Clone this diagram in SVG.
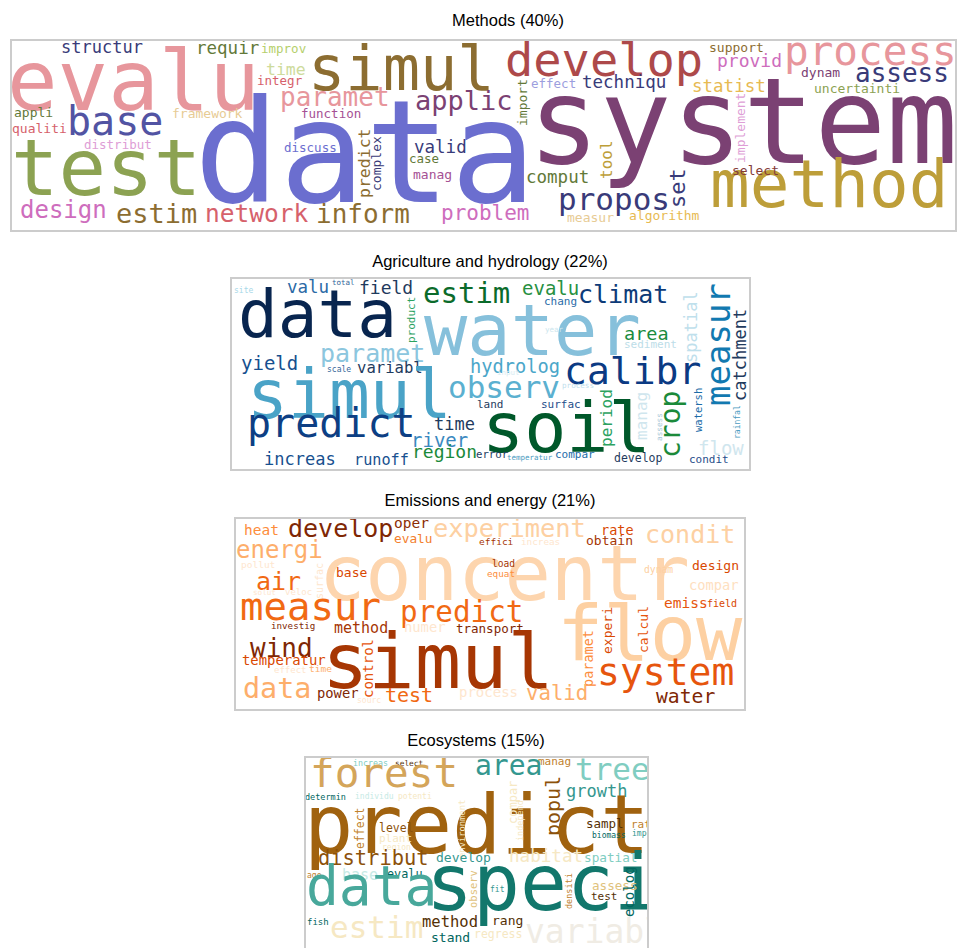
<svg xmlns="http://www.w3.org/2000/svg" width="957" height="948" viewBox="0 0 957 948">
<style>
text{font-family:"DejaVu Sans Mono",monospace}
.t{font-family:"Liberation Sans",Arial,sans-serif;font-size:16.5px;text-anchor:middle;fill:#000}
.box{fill:none;stroke:#cccccc;stroke-width:2}
</style>
<defs>
<clipPath id="c1"><rect x="12" y="41" width="944" height="189"/></clipPath>
<clipPath id="c2"><rect x="232" y="279" width="517" height="190"/></clipPath>
<clipPath id="c3"><rect x="236" y="519" width="508" height="190"/></clipPath>
<clipPath id="c4"><rect x="306" y="758" width="341" height="190"/></clipPath>
</defs>
<rect width="957" height="948" fill="#fff"/>

<g id="methods">
<text class="t" x="508" y="26">Methods (40%)</text>
<rect class="box" x="11" y="40" width="945" height="191" fill="#fff"/>
<g clip-path="url(#c1)">
<text x="7" y="110" font-size="84" fill="#e7969c">evalu</text>
<text x="194" y="202" font-size="142" fill="#6b6ecf">data</text>
<text x="11" y="195" font-size="79" fill="#8ca252">test</text>
<text x="67" y="135" font-size="40" fill="#5254a3">base</text>
<text x="308" y="90" font-size="62" fill="#8c6d31">simul</text>
<text x="505" y="76" font-size="47" fill="#ad494a">develop</text>
<text x="528" y="163" font-size="119" fill="#7b4173">system</text>
<text x="710" y="207" font-size="66" fill="#bd9e39">method</text>
<text x="784" y="65" font-size="41" fill="#e7969c">process</text>
<text x="855" y="82" font-size="26" fill="#393b79">assess</text>
<text x="61" y="53" font-size="17" fill="#393b79">structur</text>
<text x="196" y="54" font-size="17.5" fill="#637939">requir</text>
<text x="261" y="53" font-size="12.5" fill="#b5cf6b">improv</text>
<text x="266" y="75" font-size="16.5" fill="#cedb9c">time</text>
<text x="257" y="85" font-size="12.5" fill="#d6616b">integr</text>
<text x="280" y="106" font-size="26" fill="#e7969c">paramet</text>
<text x="301" y="118" font-size="12.5" fill="#a55194">function</text>
<text x="284" y="152" font-size="12.5" fill="#6b6ecf">discuss</text>
<text x="14" y="117" font-size="13" fill="#637939">appli</text>
<text x="172" y="118" font-size="13" fill="#e7cb94">framework</text>
<text x="12" y="133" font-size="13" fill="#d6616b">qualiti</text>
<text x="84" y="149" font-size="12.5" fill="#de9ed6">distribut</text>
<text x="20" y="218" font-size="24" fill="#ce6dbd">design</text>
<text x="116" y="223" font-size="27" fill="#8c6d31">estim</text>
<text x="205" y="222" font-size="24.5" fill="#d6616b">network</text>
<text x="316" y="223" font-size="26" fill="#8c6d31">inform</text>
<text x="415" y="110" font-size="27" fill="#7b4173">applic</text>
<text transform="translate(527,126) rotate(-90)" font-size="13" fill="#637939">import</text>
<text x="531" y="88" font-size="12.5" fill="#9c9ede">effect</text>
<text x="582" y="88" font-size="17.5" fill="#393b79">techniqu</text>
<text x="414" y="153" font-size="17.5" fill="#393b79">valid</text>
<text x="409" y="163" font-size="12.5" fill="#637939">case</text>
<text x="413" y="179" font-size="13" fill="#a55194">manag</text>
<text transform="translate(370,198) rotate(-90)" font-size="16.5" fill="#8c6d31">predict</text>
<text transform="translate(381,191) rotate(-90)" font-size="13" fill="#393b79">complex</text>
<text x="441" y="220" font-size="21" fill="#ce6dbd">problem</text>
<text x="526" y="183" font-size="17.5" fill="#637939">comput</text>
<text transform="translate(612,179) rotate(-90)" font-size="16" fill="#bd9e39">tool</text>
<text x="558" y="210" font-size="31" fill="#393b79">propos</text>
<text x="567" y="222" font-size="13" fill="#e7cb94">measur</text>
<text x="629" y="220" font-size="13" fill="#e7ba52">algorithm</text>
<text transform="translate(685,208) rotate(-90)" font-size="22" fill="#393b79">set</text>
<text x="709" y="52" font-size="13" fill="#8c6d31">support</text>
<text x="717" y="67" font-size="18" fill="#ce6dbd">provid</text>
<text x="801" y="77" font-size="13" fill="#7b4173">dynam</text>
<text x="692" y="92" font-size="17.5" fill="#e7ba52">statist</text>
<text x="814" y="93" font-size="13" fill="#8ca252">uncertainti</text>
<text transform="translate(745,163) rotate(-90)" font-size="13" fill="#de9ed6">implement</text>
<text x="732" y="175" font-size="13" fill="#843c39">select</text>
</g>
</g>

<g id="agriculture">
<text class="t" x="490" y="267">Agriculture and hydrology (22%)</text>
<rect class="box" x="231" y="278" width="519" height="192" fill="#fff"/>
<g clip-path="url(#c2)">
<text x="234" y="293" font-size="8" fill="#a8d8e8">site</text>
<text x="332" y="285" font-size="7.5" fill="#336699">total</text>
<text x="287" y="293" font-size="17.5" fill="#2b6aa6">valu</text>
<text x="359" y="294" font-size="18" fill="#1f3b5e">field</text>
<text transform="translate(415,343) rotate(-90)" font-size="11" fill="#2ca25f">product</text>
<text x="238" y="337" font-size="66" fill="#08254f">data</text>
<text x="423" y="303" font-size="29" fill="#0b6b2b">estim</text>
<text x="522" y="295" font-size="19" fill="#27903f">evalu</text>
<text x="578" y="303" font-size="25" fill="#0d3b78">climat</text>
<text x="544" y="305" font-size="11" fill="#2b6ca8">chang</text>
<text transform="translate(697,363) rotate(-90)" font-size="17" fill="#bfe0ec">spatial</text>
<text transform="translate(730,406) rotate(-90)" font-size="34" fill="#1279b0">measur</text>
<text transform="translate(746,401) rotate(-90)" font-size="17" fill="#1f3b5e">catchment</text>
<text x="424" y="355" font-size="72" fill="#86c0db">water</text>
<text x="624" y="340" font-size="18.5" fill="#1a8b3e">area</text>
<text x="624" y="348" font-size="11" fill="#bcdde8">sediment</text>
<text x="545" y="332" font-size="7.5" fill="#cde6ee">year</text>
<text x="320" y="362" font-size="25" fill="#8cc6de">paramet</text>
<text x="241" y="370" font-size="19" fill="#17508f">yield</text>
<text x="327" y="372" font-size="8" fill="#336699">scale</text>
<text x="357" y="373" font-size="15.6" fill="#1f3b5e">variabl</text>
<text x="470" y="373" font-size="18.7" fill="#4ba6c9">hydrolog</text>
<text x="497" y="375" font-size="7.5" fill="#d8ecf2">input</text>
<text x="564" y="384" font-size="38" fill="#0b3a83">calibr</text>
<text x="247" y="418" font-size="68" fill="#4aa3c7">simul</text>
<text x="448" y="398" font-size="31" fill="#5bb0d0">observ</text>
<text x="562" y="388" font-size="7.6" fill="#bfe0ec">process</text>
<text x="477" y="408" font-size="11" fill="#1f3b5e">land</text>
<text x="541" y="408" font-size="11" fill="#1f4e8a">surfac</text>
<text transform="translate(612,447) rotate(-90)" font-size="16" fill="#2ca25f">period</text>
<text transform="translate(647,440) rotate(-90)" font-size="16" fill="#d0e6ee">manag</text>
<text transform="translate(680,458) rotate(-90)" font-size="28" fill="#1b8a3a">crop</text>
<text transform="translate(662,441) rotate(-90)" font-size="7.7" fill="#a8c8d8">assess</text>
<text transform="translate(702,432) rotate(-90)" font-size="10.5" fill="#1c6ca8">watersh</text>
<text transform="translate(740,439) rotate(-90)" font-size="8" fill="#4a9ac0">rainfal</text>
<text x="698" y="455" font-size="19" fill="#d0e6ee">flow</text>
<text x="482" y="452" font-size="70" fill="#00582a">soil</text>
<text x="247" y="437" font-size="40" fill="#0d3f84">predict</text>
<text x="434" y="430" font-size="17" fill="#1f3b5e">time</text>
<text x="411" y="447" font-size="19" fill="#3a88c0">river</text>
<text x="412" y="458" font-size="18" fill="#1b8a3a">region</text>
<text x="476" y="458" font-size="10.7" fill="#1f3b5e">error</text>
<text x="507" y="460" font-size="7.5" fill="#4a9ac0">temperatur</text>
<text x="555" y="458" font-size="11" fill="#1c6ca8">compar</text>
<text x="614" y="462" font-size="11.5" fill="#1f3b5e">develop</text>
<text x="689" y="463" font-size="11" fill="#1f4e8a">condit</text>
<text x="264" y="465" font-size="17" fill="#17508f">increas</text>
<text x="354" y="465" font-size="15.2" fill="#17508f">runoff</text>
</g>
</g>

<g id="emissions">
<text class="t" x="490" y="506">Emissions and energy (21%)</text>
<rect class="box" x="235" y="518" width="510" height="192" fill="#fff"/>
<g clip-path="url(#c3)">
<text x="319" y="600" font-size="77" fill="#fdd5ae">concentr</text>
<text x="557" y="660" font-size="77" fill="#fdd0a2">flow</text>
<text x="244" y="535" font-size="14.5" fill="#fd8d3c">heat</text>
<text x="288" y="537" font-size="25" fill="#7f2704">develop</text>
<text x="394" y="528" font-size="14.5" fill="#8c2d04">oper</text>
<text x="394" y="543" font-size="12.8" fill="#f3802e">evalu</text>
<text x="433" y="537" font-size="25.4" fill="#fdd0a2">experiment</text>
<text x="479" y="545" font-size="9.5" fill="#a63603">effici</text>
<text x="521" y="545" font-size="9.3" fill="#fee6ce">increas</text>
<text x="601" y="535" font-size="13.5" fill="#d94801">rate</text>
<text x="586" y="545" font-size="13" fill="#a63603">obtain</text>
<text x="645" y="543" font-size="25" fill="#fdd0a2">condit</text>
<text x="236" y="558" font-size="24" fill="#fdae6b">energi</text>
<text x="241" y="568" font-size="9.5" fill="#fee6ce">pollut</text>
<text x="336" y="577" font-size="13" fill="#d94801">base</text>
<text x="256" y="590" font-size="25" fill="#f16913">air</text>
<text transform="translate(323,599) rotate(-90)" font-size="10" fill="#fee6ce">surfac</text>
<text x="253" y="595" font-size="7.6" fill="#fee6ce">solut</text>
<text x="285" y="595" font-size="9" fill="#fee6ce">veloc</text>
<text x="492" y="567" font-size="9.6" fill="#a63603">load</text>
<text x="487" y="577" font-size="9.3" fill="#fd8d3c">equat</text>
<text x="644" y="573" font-size="9.7" fill="#fdd0a2">dynam</text>
<text x="692" y="570" font-size="13" fill="#d94801">design</text>
<text x="689" y="590" font-size="13.7" fill="#fee0c0">compar</text>
<text x="240" y="620" font-size="39" fill="#f16913">measur</text>
<text x="400" y="622" font-size="29.3" fill="#f16913">predict</text>
<text x="664" y="608" font-size="14.5" fill="#e6550d">emiss</text>
<text x="707" y="607" font-size="10" fill="#d94801">field</text>
<text x="271" y="629" font-size="9.2" fill="#7f2704">investig</text>
<text x="334" y="633" font-size="15" fill="#a63603">method</text>
<text x="404" y="632" font-size="13.8" fill="#fee6ce">numer</text>
<text x="456" y="633" font-size="12.5" fill="#7f2704">transport</text>
<text transform="translate(593,687) rotate(-90)" font-size="13.5" fill="#fd8d3c">paramet</text>
<text transform="translate(612,654) rotate(-90)" font-size="13" fill="#d94801">experi</text>
<text transform="translate(648,653) rotate(-90)" font-size="13" fill="#e6550d">calcul</text>
<text x="250" y="657" font-size="26" fill="#7f2704">wind</text>
<text transform="translate(373,698) rotate(-90)" font-size="14" fill="#e6550d">control</text>
<text x="322" y="688" font-size="77" fill="#a63603">simul</text>
<text x="242" y="665" font-size="13.9" fill="#d94801">temperatur</text>
<text x="274" y="673" font-size="9" fill="#fee6ce">effect</text>
<text x="309" y="672" font-size="9.5" fill="#fdae6b">time</text>
<text x="243" y="698" font-size="28.4" fill="#fdae6b">data</text>
<text x="317" y="698" font-size="13.8" fill="#7f2704">power</text>
<text x="385" y="702" font-size="20" fill="#f16913">test</text>
<text x="459" y="697" font-size="14" fill="#fee6ce">process</text>
<text x="357" y="703" font-size="8" fill="#fee6ce">sourc</text>
<text x="526" y="700" font-size="20.7" fill="#fdae6b">valid</text>
<text x="597" y="685" font-size="38" fill="#e6550d">system</text>
<text x="656" y="703" font-size="19.7" fill="#7f2704">water</text>
</g>
</g>

<g id="ecosystems">
<text class="t" x="476" y="746">Ecosystems (15%)</text>
<rect class="box" x="305" y="757" width="343" height="192" fill="#fff"/>
<g clip-path="url(#c4)">
<text x="353" y="766" font-size="8.3" fill="#80cdc1">increas</text>
<text x="395" y="766" font-size="7.8" fill="#543005">select</text>
<text x="538" y="765" font-size="11" fill="#bf812d">manag</text>
<text x="310" y="787" font-size="41" fill="#d4a55a">forest</text>
<text x="475" y="775" font-size="28" fill="#35978f">area</text>
<text x="575" y="780" font-size="31" fill="#80cdc1">tree</text>
<text x="305" y="800" font-size="8.5" fill="#01665e">determin</text>
<text x="355" y="799" font-size="8" fill="#c7eae5">individu</text>
<text x="398" y="799" font-size="8" fill="#f6e8c3">potenti</text>
<text transform="translate(560,836) rotate(-90)" font-size="20" fill="#8c510a">popul</text>
<text x="566" y="797" font-size="17" fill="#35978f">growth</text>
<text x="304" y="853" font-size="82" fill="#a0620f">predict</text>
<text transform="translate(465,858) rotate(-90)" font-size="8.8" fill="#f6e8c3">environment</text>
<text transform="translate(364,849) rotate(-90)" font-size="11.5" fill="#bf812d">effect</text>
<text x="379" y="832" font-size="11.5" fill="#8c510a">level</text>
<text x="379" y="842" font-size="11" fill="#f6e8c3">plant</text>
<text x="382" y="850" font-size="8" fill="#f6e8c3">region</text>
<text transform="translate(517,824) rotate(-90)" font-size="12" fill="#f6e8c3">compar</text>
<text transform="translate(523,841) rotate(-90)" font-size="8.5" fill="#f6e8c3">independ</text>
<text x="586" y="828" font-size="12.5" fill="#543005">sampl</text>
<text x="592" y="838" font-size="8" fill="#01665e">biomass</text>
<text x="631" y="828" font-size="11" fill="#bf812d">rate</text>
<text x="632" y="836" font-size="8" fill="#35978f">import</text>
<text x="318" y="865" font-size="20.4" fill="#8c510a">distribut</text>
<text x="436" y="862" font-size="13" fill="#35978f">develop</text>
<text x="509" y="862" font-size="17.6" fill="#f6e8c3">habitat</text>
<text x="584" y="862" font-size="12.7" fill="#80cdc1">spatial</text>
<text x="307" y="878" font-size="8" fill="#bf812d">age</text>
<text x="342" y="880" font-size="15" fill="#c7eae5">base</text>
<text x="387" y="878" font-size="11.8" fill="#01665e">evalu</text>
<text transform="translate(477,908) rotate(-90)" font-size="10.5" fill="#dfc27d">observ</text>
<text x="490" y="892" font-size="8" fill="#35978f">fit</text>
<text transform="translate(572,909) rotate(-90)" font-size="8.5" fill="#bf812d">densiti</text>
<text x="306" y="905" font-size="54.6" fill="#48a89b">data</text>
<text x="426" y="910" font-size="78" fill="#12776c">speci</text>
<text x="592" y="890" font-size="12.6" fill="#dfc27d">assess</text>
<text x="591" y="900" font-size="11" fill="#543005">test</text>
<text transform="translate(634,917) rotate(-90)" font-size="14" fill="#01665e">ecolog</text>
<text x="307" y="925" font-size="9" fill="#01665e">fish</text>
<text x="330" y="938" font-size="31" fill="#f6e8c3">estim</text>
<text x="422" y="927" font-size="15.5" fill="#543005">method</text>
<text x="492" y="925" font-size="13" fill="#543005">rang</text>
<text x="431" y="942" font-size="13" fill="#01665e">stand</text>
<text x="474" y="938" font-size="11.5" fill="#f6e8c3">regress</text>
<text x="525" y="943" font-size="33" fill="#f0ece4">variabl</text>
</g>
</g>
</svg>
